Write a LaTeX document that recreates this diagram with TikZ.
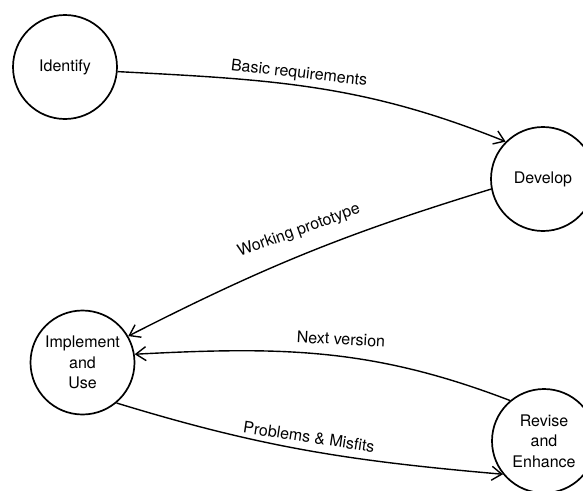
\documentclass[tikz,border=0pt]{standalone}
\usepackage{fontspec}
\setmainfont{TeX Gyre Heros}
\usetikzlibrary{arrows.meta}
\begin{document}
\begin{tikzpicture}[x=1pt,y=-1pt,
  stage/.style={circle, draw, line width=1.7pt, minimum size=104pt, inner sep=0pt,
    align=center, font=\fontsize{16}{20.5}\selectfont},
  flow/.style={line width=1.4pt,
    -{Straight Barb[length=10pt,width=14pt,line width=1.4pt]}},
  lbl/.style={font=\fontsize{16}{19}\selectfont, inner sep=0pt}]
\useasboundingbox (0,0) rectangle (583,490);
\clip (0,0) rectangle (583,490);

% the four stages of the cycle
\node[stage] (identify)  at (65,67)     {Identify};
\node[stage] (develop)   at (543,179)   {Develop};
\node[stage] (implement) at (82.5,362.5){Implement\\and\\Use};
\node[stage] (revise)    at (544,441)   {Revise\\and\\Enhance};

% transitions
\draw[flow] (identify.-5)   to[out=-3,  in=158] (develop.135);
\draw[flow] (develop.191)   to[out=197, in=27]  (implement.30);
\draw[flow] (revise.130)    to[out=159, in=3]   (implement.9);
\draw[flow] (implement.-50) to[out=-17, in=175] (revise.219);

% transition labels
\node[lbl, rotate=-6.5] (lbasic) at (299,74)  {Basic requirements};
\node[lbl, rotate=20]   (lwork)  at (299,231) {Working prototype};
\node[lbl, rotate=-3]   (lnext)  at (341,339) {Next version};
\node[lbl, rotate=-8.5] (lprob)  at (309,437) {Problems \& Misfits};
\end{tikzpicture}
\end{document}
